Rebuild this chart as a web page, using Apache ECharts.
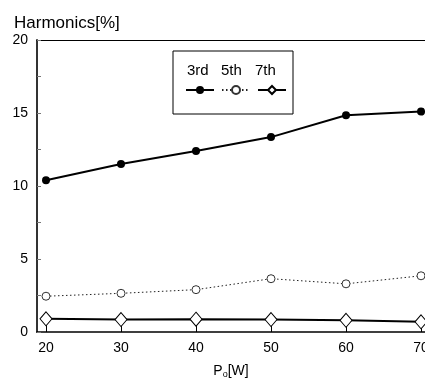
<!DOCTYPE html>
<html>
<head>
<meta charset="utf-8">
<script src="https://cdn.jsdelivr.net/npm/echarts@6/dist/echarts.min.js"></script>
<style>
  html, body { margin: 0; padding: 0; background: #fff; }
  #main { width: 425px; height: 379px; }
</style>
</head>
<body>
<div id="main"></div>
<script>
// output power [W]
var power = [20, 30, 40, 50, 60, 70];
var xTicks = [20, 30, 40, 50, 60, 70];
// harmonics [%]
var third = [10.4, 11.5, 12.4, 13.35, 14.85, 15.1];
var fifth = [2.45, 2.65, 2.9, 3.65, 3.3, 3.85];
var seventh = [0.9, 0.85, 0.88, 0.85, 0.8, 0.7];
var names = ['3rd', '5th', '7th'];

function pairs(vals) {
  return power.map(function (p, i) { return [p, vals[i]]; });
}

var myChart = echarts.init(document.getElementById('main'));
var font = 'Liberation Sans, Arial, sans-serif';

var option = {
  animation: false,
  backgroundColor: '#fff',
  textStyle: { fontFamily: font, color: '#000' },
  grid: {
    left: 37, top: 40, right: 0, bottom: 47,
    outerBoundsMode: 'none'
  },
  title: {
    text: 'Harmonics[%]',
    left: 9, top: 10,
    textStyle: { fontFamily: font, fontSize: 17, fontWeight: 'normal', color: '#000' }
  },
  legend: {
    left: 173, top: 51,
    padding: [34, 6, 19, 12],
    borderColor: '#000', borderWidth: 1,
    itemWidth: 28, itemHeight: 10, itemGap: 6,
    formatter: function () { return ''; },
    textStyle: { padding: 0 },
    data: names
  },
  graphic: [
    { type: 'text', left: 187, top: 63, style: { text: names[0], font: '15px ' + font, fill: '#000' } },
    { type: 'text', left: 221, top: 63, style: { text: names[1], font: '15px ' + font, fill: '#000' } },
    { type: 'text', left: 255, top: 63, style: { text: names[2], font: '15px ' + font, fill: '#000' } }
  ],
  xAxis: [{
    type: 'value', min: 18.8, max: 70.53,
    name: 'P{s|o}[W]', nameLocation: 'middle', nameGap: 32,
    nameTextStyle: {
      fontSize: 14, color: '#000',
      rich: { s: { fontSize: 9, verticalAlign: 'bottom', padding: [6, 0, 0, 0] } }
    },
    splitLine: { show: false },
    axisLine: { lineStyle: { color: '#000', width: 1.5 } },
    axisTick: { inside: true, length: 9, customValues: xTicks, lineStyle: { color: '#000' } },
    axisLabel: { customValues: xTicks, color: '#000', fontSize: 14, margin: 9 }
  }, {
    type: 'value', position: 'top', min: 18.8, max: 70.53,
    splitLine: { show: false },
    axisLine: { lineStyle: { color: '#000', width: 1.2 } },
    axisTick: { show: false },
    axisLabel: { show: false }
  }],
  yAxis: {
    type: 'value', min: 0, max: 20, interval: 5,
    splitLine: { show: false },
    axisLine: { lineStyle: { color: '#333', width: 2 } },
    axisTick: { inside: true, length: 4, lineStyle: { color: '#777' } },
    minorTick: { show: true, splitNumber: 2, length: 4, lineStyle: { color: '#777' } },
    axisLabel: { color: '#000', fontSize: 14, margin: 9 }
  },
  series: [{
    name: names[0], type: 'line', data: pairs(third),
    symbol: 'circle', symbolSize: 8,
    lineStyle: { color: '#000', width: 2 },
    itemStyle: { color: '#000' }
  }, {
    name: names[1], type: 'line', data: pairs(fifth),
    symbol: 'circle', symbolSize: 8,
    lineStyle: { color: '#222', width: 1, type: [1.5, 2.5] },
    itemStyle: { color: '#fff', borderColor: '#333', borderWidth: 1 }
  }, {
    name: names[2], type: 'line', data: pairs(seventh),
    symbol: 'diamond', symbolSize: [12, 14],
    lineStyle: { color: '#000', width: 2 },
    itemStyle: { color: '#fff', borderColor: '#000', borderWidth: 1 }
  }]
};
myChart.setOption(option);
</script>
</body>
</html>
